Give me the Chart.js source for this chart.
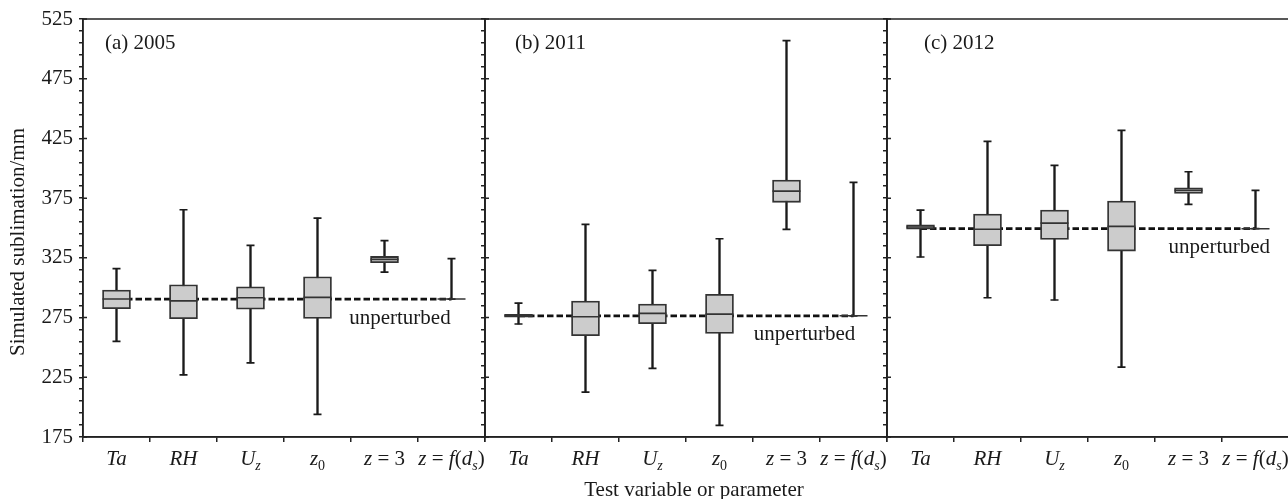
<!DOCTYPE html>
<html>
<head>
<meta charset="utf-8">
<script src="https://cdn.jsdelivr.net/npm/chart.js@4.4.0/dist/chart.umd.min.js"></script>
<style>
  html, body { margin: 0; padding: 0; background: #fff; overflow: hidden; }
  #wrap { position: relative; width: 1288px; height: 499px; overflow: hidden; }
  canvas { position: absolute; top: 0; }
</style>
</head>
<body>
<div id="wrap">
  <canvas id="chartA" style="left:0px" width="490" height="499"></canvas>
  <canvas id="chartB" style="left:480px" width="410" height="499"></canvas>
  <canvas id="chartC" style="left:881px" width="410" height="499"></canvas>
</div>
<script>
// categories / tick labels
const categories = ['Ta', 'RH', 'Uz', 'z0', 'z = 3', 'z = f(ds)'];
const yTicks = [175, 225, 275, 325, 375, 425, 475, 525];
const unperturbed = [290.5, 276.5, 349.4];

// (a) 2005
const min2005 = [255, 227, 237, 194, 313, 290.5];
const q1_2005 = [282.4, 274, 282, 274.3, 321, 290.5];
const med2005 = [290.5, 289, 291.6, 291.9, 323.7, 290.5];
const q3_2005 = [298, 302.5, 300.8, 309.2, 326.2, 290.5];
const max2005 = [316, 365.3, 335.5, 358.3, 339.4, 324.3];

// (b) 2011
const min2011 = [269.6, 212.6, 232.4, 184.7, 348.8, 276.5];
const q1_2011 = [275.3, 259.8, 269.8, 261.7, 371.5, 276.5];
const med2011 = [276.5, 275.7, 278.5, 277.9, 380.9, 276.5];
const q3_2011 = [277.7, 288.8, 286.3, 294.4, 390.2, 276.5];
const max2011 = [287.1, 353, 314.5, 341, 506.9, 388.2];

// (c) 2012
const min2012 = [325.7, 291.6, 289.7, 233.5, 369.8, 349.4];
const q1_2012 = [349, 335.1, 340.5, 330.7, 379, 349.4];
const med2012 = [350.8, 349, 354.1, 351.4, 381.5, 349.4];
const q3_2012 = [352.6, 361.7, 365, 372.6, 383.7, 349.4];
const max2012 = [365, 422.6, 402.5, 431.8, 397.1, 381.5];

Chart.defaults.font.family = '"Liberation Serif", "Times New Roman", serif';
Chart.defaults.font.size = 21;
Chart.defaults.color = '#1a1a1a';

const FONT = '"Liberation Serif", "Times New Roman", serif';
const ink = '#1a1a1a';

// how the x labels are typeset (italic / subscript pieces)
const labelParts = {
  'Ta': [['Ta', 'i']],
  'RH': [['RH', 'i']],
  'Uz': [['U', 'i'], ['z', 'is']],
  'z0': [['z', 'i'], ['0', 's']],
  'z = 3': [['z', 'i'], [' = 3', 'n']],
  'z = f(ds)': [['z', 'i'], [' = ', 'n'], ['f', 'i'], ['(', 'n'], ['d', 'i'], ['s', 'is'], [')', 'n']]
};

function drawRich(ctx, parts, cx, cy) {
  const fonts = {
    i: 'italic 21px ' + FONT,
    n: '21px ' + FONT,
    is: 'italic 14px ' + FONT,
    s: '14px ' + FONT
  };
  let total = 0;
  parts.forEach(p => { ctx.font = fonts[p[1]]; total += ctx.measureText(p[0]).width; });
  let x = cx - total / 2;
  ctx.textAlign = 'left';
  parts.forEach(p => {
    ctx.font = fonts[p[1]];
    const sub = p[1] === 's' || p[1] === 'is';
    ctx.fillText(p[0], x, sub ? cy + 7 : cy);
    x += ctx.measureText(p[0]).width;
  });
}

const panelText = {
  id: 'panelText',
  afterDraw(chart, args, opts) {
    const ctx = chart.ctx;
    const area = chart.chartArea;
    const xs = chart.scales.x, ys = chart.scales.y;
    ctx.save();
    // frame round the plot
    ctx.strokeStyle = '#222';
    ctx.lineWidth = 1.5;
    ctx.strokeRect(area.left, area.top, area.right - area.left, area.bottom - area.top);

    // major ticks also poke into the plot
    ctx.beginPath();
    yTicks.forEach(v => {
      const y = ys.getPixelForValue(v);
      ctx.moveTo(area.left, y);
      ctx.lineTo(area.left + 4, y);
    });
    ctx.stroke();

    ctx.fillStyle = ink;
    ctx.textBaseline = 'middle';
    ctx.font = '21px ' + FONT;
    ctx.textAlign = 'left';
    ctx.fillText(opts.tag, area.left + opts.tagDx, 43);

    ctx.textAlign = 'center';
    ctx.fillText('unperturbed', xs.getPixelForValue(opts.unpAt), ys.getPixelForValue(opts.base) + 19);

    categories.forEach((c, i) => drawRich(ctx, labelParts[c], xs.getPixelForValue(i), area.bottom + 22));

    if (opts.yTitle) {
      ctx.save();
      ctx.translate(18, 242);
      ctx.rotate(-Math.PI / 2);
      ctx.font = '21px ' + FONT;
      ctx.textAlign = 'center';
      ctx.fillText(opts.yTitle, 0, 0);
      ctx.restore();
    }
    if (opts.xTitle) {
      ctx.font = '21px ' + FONT;
      ctx.textAlign = 'center';
      ctx.fillText(opts.xTitle, 694 - 480, 490);
    }
    ctx.restore();
  }
};

function makePanel(p) {
  const ctx = document.getElementById(p.id).getContext('2d');
  return new Chart(ctx, {
    type: 'bar',
    data: {
      labels: categories,
      datasets: [
        {
          type: 'line',
          data: categories.map(() => p.base),
          borderColor: '#111',
          borderWidth: 2.8,
          borderDash: [6.5, 3],
          pointRadius: 0,
          tension: 0,
          order: 6
        },
        {
          // whiskers
          data: p.min.map((v, i) => [v, p.max[i]]),
          backgroundColor: '#1a1a1a',
          barThickness: 1.7,
          grouped: false,
          order: 5
        },
        {
          // boxes
          data: p.q1.map((v, i) => [v, p.q3[i]]),
          backgroundColor: '#cccccc',
          borderColor: '#333',
          borderWidth: 1.8,
          borderSkipped: false,
          barThickness: 28,
          grouped: false,
          order: 4
        },
        {
          type: 'line',
          data: p.max,
          showLine: false,
          pointStyle: 'line',
          pointRadius: 4,
          pointBorderWidth: 1.7,
          pointBorderColor: '#1a1a1a',
          order: 3
        },
        {
          type: 'line',
          data: p.min,
          showLine: false,
          pointStyle: 'line',
          pointRadius: 4,
          pointBorderWidth: 1.7,
          pointBorderColor: '#1a1a1a',
          order: 3
        },
        {
          // medians
          type: 'line',
          data: p.med,
          showLine: false,
          pointStyle: 'line',
          pointRadius: 14,
          pointBorderWidth: 1.6,
          pointBorderColor: '#333',
          order: 1
        }
      ]
    },
    options: {
      responsive: false,
      animation: false,
      events: [],
      layout: { autoPadding: false, padding: { top: 19, right: p.padRight, left: 0, bottom: 0 } },
      plugins: {
        legend: { display: false },
        tooltip: { enabled: false },
        panelText: {
          tag: p.tag,
          tagDx: p.tagDx,
          base: p.base,
          unpAt: p.unpAt,
          yTitle: p.yTitle,
          xTitle: p.xTitle
        }
      },
      scales: {
        x: {
          type: 'category',
          offset: true,
          grid: { offset: true, drawOnChartArea: false, tickLength: 5, color: '#222', lineWidth: 1.5 },
          border: { display: true, color: '#222', width: 1.5 },
          ticks: { display: false },
          afterFit: s => { s.height = 62; }
        },
        y: {
          min: 175,
          max: 525,
          grid: { drawOnChartArea: false, tickLength: 4, color: '#222', lineWidth: 1.5 },
          border: { display: true, color: '#222', width: 1.5 },
          ticks: {
            display: p.yLabels,
            stepSize: 10,
            autoSkip: false,
            padding: 6,
            color: ink,
            font: { size: 21 },
            callback: v => yTicks.includes(v) ? v : ''
          },
          afterFit: s => { s.width = p.yWidth; }
        }
      }
    },
    plugins: [panelText]
  });
}

makePanel({ id: 'chartA', tag: '(a) 2005', min: min2005, q1: q1_2005, med: med2005, q3: q3_2005, max: max2005,
  base: unperturbed[0], yWidth: 83, yLabels: true, padRight: 5, tagDx: 22, unpAt: 4.23,
  yTitle: 'Simulated sublimation/mm' });
makePanel({ id: 'chartB', tag: '(b) 2011', min: min2011, q1: q1_2011, med: med2011, q3: q3_2011, max: max2011,
  base: unperturbed[1], yWidth: 5, yLabels: false, padRight: 3, tagDx: 30, unpAt: 4.27,
  xTitle: 'Test variable or parameter' });
makePanel({ id: 'chartC', tag: '(c) 2012', min: min2012, q1: q1_2012, med: med2012, q3: q3_2012, max: max2012,
  base: unperturbed[2], yWidth: 6, yLabels: false, padRight: 2, tagDx: 37, unpAt: 4.46 });
</script>
</body>
</html>
